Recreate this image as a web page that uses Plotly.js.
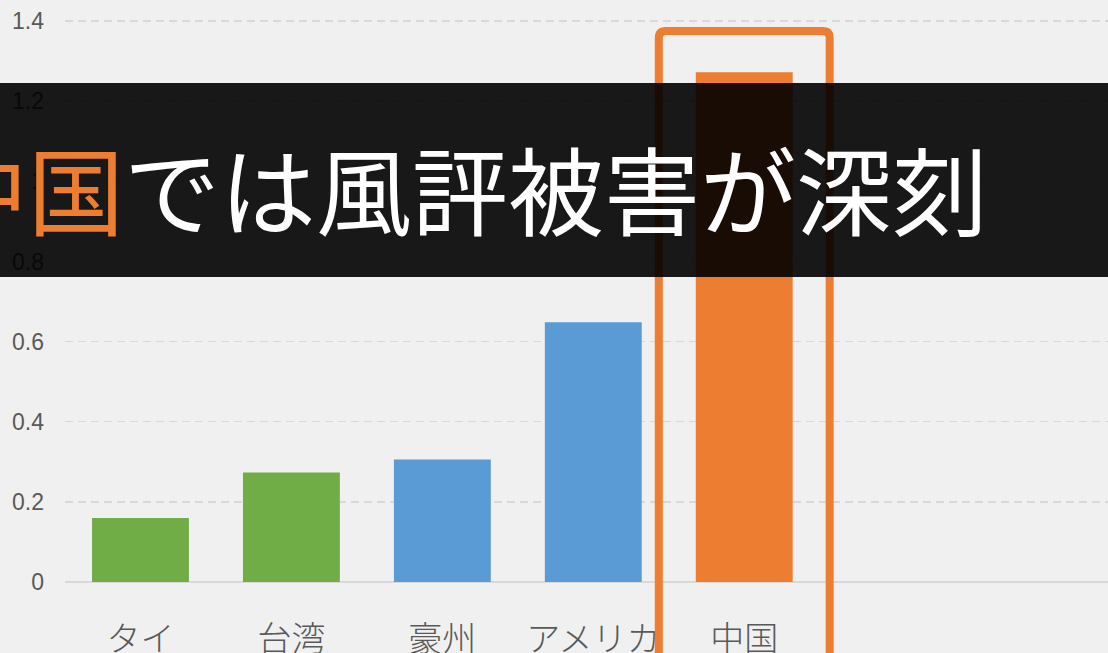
<!DOCTYPE html>
<html>
<head>
<meta charset="utf-8">
<script src="https://cdn.plot.ly/plotly-3.0.1.min.js"></script>
<style>
html,body{margin:0;padding:0;background:#f0f0f0;}
#chart{width:1108px;height:653px;}
</style>
</head>
<body>
<div id="chart"></div>
<script>
// Data
const categories = ["タイ", "台湾", "豪州", "アメリカ", "中国"];
const values = [0.16, 0.273, 0.306, 0.648, 1.272];
const barColors = ["#70AD47", "#70AD47", "#5B9BD5", "#5B9BD5", "#ED7D31"];
const yTicks = [0, 0.2, 0.4, 0.6, 0.8, 1.0, 1.2, 1.4];
const yTickLabels = ["0", "0.2", "0.4", "0.6", "0.8", "1", "1.2", "1.4"];
const titleHighlight = "中国";
const titleRest = "では風評被害が深刻";
const highlightCategory = "中国";

const W = 1108, H = 653;
const M = {l: 65, r: 0, t: 5, b: 71};
const pw = W - M.l - M.r, ph = H - M.t - M.b;
const xRange = [-0.5, 6.41];
const hiIdx = categories.indexOf(highlightCategory);
const toPaperX = v => (v - xRange[0]) / (xRange[1] - xRange[0]);
const pxToPaperX = px => (px - M.l) / pw;
const pxToPaperY = py => (H - M.b - py) / ph;

// rounded highlight frame (paper coordinates)
function roundedRectPath(x0, x1, y0, y1, rpx) {
  const rx = rpx / pw, ry = rpx / ph;
  return `M${x0},${y0} L${x0},${y1 - ry} Q${x0},${y1} ${x0 + rx},${y1} ` +
         `L${x1 - rx},${y1} Q${x1},${y1} ${x1},${y1 - ry} L${x1},${y0}`;
}
const fx0 = toPaperX(hiIdx - 0.566), fx1 = toPaperX(hiIdx + 0.566);
const fy1 = pxToPaperY(31), fy0 = pxToPaperY(H + 20);

const trace = {
  type: "bar",
  x: categories,
  y: values,
  marker: {color: barColors, line: {width: 0}},
  hoverinfo: "none"
};

const layout = {
  width: W,
  height: H,
  paper_bgcolor: "#f0f0f0",
  plot_bgcolor: "#f0f0f0",
  margin: {l: M.l, r: M.r, t: M.t, b: M.b, pad: 0},
  bargap: 0.358,
  showlegend: false,
  xaxis: {
    type: "category",
    range: xRange,
    showgrid: false,
    showline: false,
    zeroline: false,
    ticks: "",
    ticklabelstandoff: 34,
    tickfont: {family: "Noto Sans CJK JP", size: 34, color: "#595959", weight: 300},
    fixedrange: true
  },
  yaxis: {
    range: [0, 1.44],
    tickvals: yTicks,
    ticktext: yTickLabels,
    showgrid: true,
    gridcolor: "#d9d9d9",
    gridwidth: 1.5,
    griddash: "8px,5px",
    zeroline: true,
    zerolinecolor: "#d9d9d9",
    zerolinewidth: 2,
    showline: false,
    ticks: "",
    ticklabelstandoff: 20,
    tickfont: {family: "Liberation Sans, Arial, sans-serif", size: 23, color: "#595959"},
    fixedrange: true
  },
  shapes: [
    {
      type: "path", xref: "paper", yref: "paper",
      path: roundedRectPath(fx0, fx1, fy0, fy1, 7),
      line: {color: "#ED7D31", width: 8},
      fillcolor: "rgba(0,0,0,0)",
      layer: "above"
    },
    {
      type: "rect", xref: "paper", yref: "paper",
      x0: -0.1, x1: 1.1,
      y0: pxToPaperY(277), y1: pxToPaperY(83),
      line: {width: 0},
      fillcolor: "rgba(0,0,0,0.9)",
      layer: "above"
    }
  ],
  annotations: [
    {
      xref: "paper", yref: "paper",
      x: pxToPaperX(990), y: pxToPaperY(186),
      xanchor: "right", yanchor: "middle",
      showarrow: false,
      text: '<span style="color:#ED7D31">' + titleHighlight + '</span>' + titleRest,
      font: {family: "Noto Sans CJK JP", size: 96, color: "#ffffff"}
    }
  ]
};

Plotly.newPlot("chart", [trace], layout, {displayModeBar: false, staticPlot: true});
</script>
</body>
</html>
